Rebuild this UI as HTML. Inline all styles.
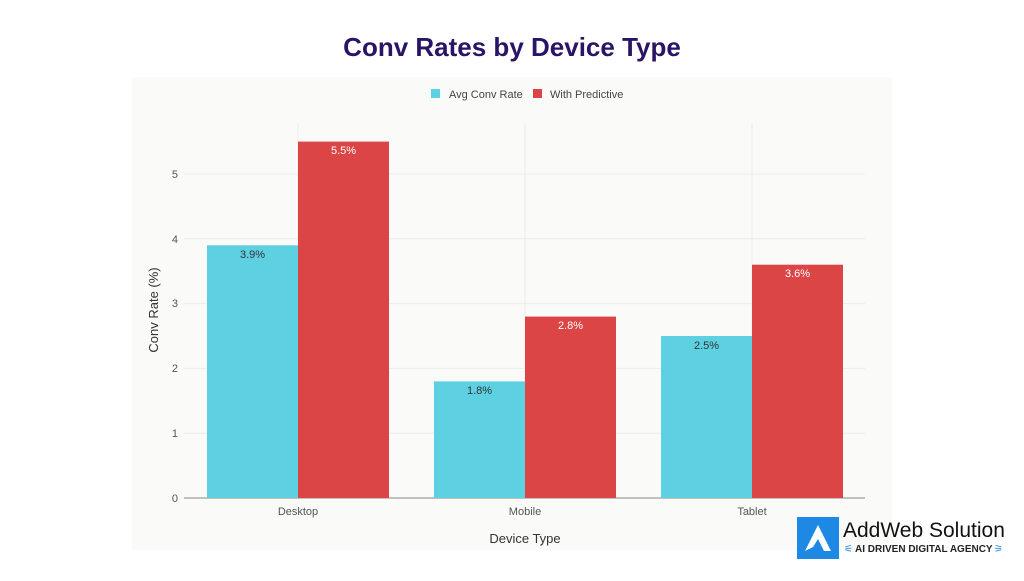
<!DOCTYPE html>
<html><head><meta charset="utf-8"><style>
body{margin:0;width:1024px;height:576px;background:#fff;overflow:hidden;font-family:"Liberation Sans",sans-serif}
</style></head><body>
<svg width="1024" height="576" xmlns="http://www.w3.org/2000/svg" font-family="Liberation Sans, sans-serif">
<text x="512" y="56" text-anchor="middle" font-size="26" font-weight="bold" fill="#2a1466">Conv Rates by Device Type</text>
<rect x="132" y="77" width="760" height="473" fill="#fafaf9"/>
<g stroke="#ececec" stroke-width="1">
<line x1="184" x2="865" y1="433.2" y2="433.2"/><line x1="184" x2="865" y1="368.4" y2="368.4"/>
<line x1="184" x2="865" y1="303.6" y2="303.6"/><line x1="184" x2="865" y1="238.8" y2="238.8"/>
<line x1="184" x2="865" y1="174" y2="174"/>
<line x1="298" x2="298" y1="123" y2="498"/><line x1="525" x2="525" y1="123" y2="498"/><line x1="752" x2="752" y1="123" y2="498"/>
</g>
<line x1="184" x2="865" y1="498" y2="498" stroke="#888"/>
<g fill="#555" font-size="11" text-anchor="end">
<text x="178" y="502">0</text><text x="178" y="437">1</text><text x="178" y="372">2</text>
<text x="178" y="307">3</text><text x="178" y="243">4</text><text x="178" y="178">5</text>
</g>
<g fill="#555" font-size="11" text-anchor="middle">
<text x="298" y="515">Desktop</text><text x="525" y="515">Mobile</text><text x="752" y="515">Tablet</text>
</g>
<text x="525" y="543" text-anchor="middle" font-size="13" fill="#333">Device Type</text>
<text transform="translate(158,310) rotate(-90)" text-anchor="middle" font-size="13" fill="#333">Conv Rate (%)</text>
<rect x="431" y="89" width="9" height="9" fill="#5dd0e2"/>
<text x="449" y="98" font-size="11" fill="#444">Avg Conv Rate</text>
<rect x="533" y="89" width="9" height="9" fill="#db4545"/>
<text x="550" y="98" font-size="11" fill="#444">With Predictive</text>
<g fill="#5dd0e2">
<rect x="207" y="245.3" width="91" height="252.7"/>
<rect x="434" y="381.4" width="91" height="116.6"/>
<rect x="661" y="336" width="91" height="162"/>
</g>
<g fill="#db4545">
<rect x="298" y="141.6" width="91" height="356.4"/>
<rect x="525" y="316.6" width="91" height="181.4"/>
<rect x="752" y="264.7" width="91" height="233.3"/>
</g>
<g font-size="11" text-anchor="middle">
<text x="252.5" y="258" fill="#333">3.9%</text>
<text x="479.5" y="394" fill="#333">1.8%</text>
<text x="706.5" y="349" fill="#333">2.5%</text>
<text x="343.5" y="154" fill="#fff">5.5%</text>
<text x="570.5" y="329" fill="#fff">2.8%</text>
<text x="797.5" y="277" fill="#fff">3.6%</text>
</g>
<rect x="797" y="517" width="42" height="42" fill="#1e88e5"/>
<path d="M805 551 L818 525 L831 551 L824 551 L818 539 L813 547 Z" fill="#fff"/>
<text x="843" y="537" font-size="21" fill="#111">AddWeb Solution</text>
<text x="855" y="552" font-size="10" font-weight="bold" fill="#222">AI DRIVEN DIGITAL AGENCY</text>
<text x="844" y="552" font-size="10" fill="#1e88e5">⚟</text>
<text x="994" y="552" font-size="10" fill="#1e88e5">⚞</text>
</svg>
</body></html>
